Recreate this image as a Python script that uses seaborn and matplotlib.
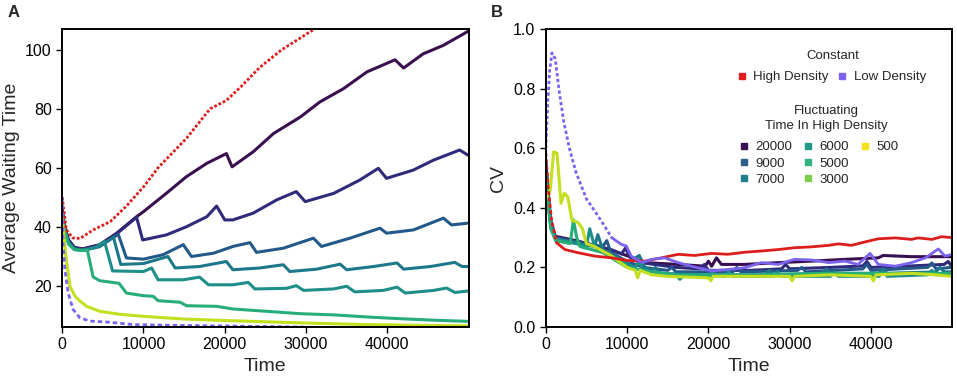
# %%
import numpy as np
import pandas as pd
import seaborn as sns
import matplotlib.pyplot as plt
from matplotlib.lines import Line2D

# %%
# panel A - average waiting time
a_high_t = [0, 500, 1300, 2200, 3800, 5900, 7900, 10000, 11800, 15300, 18200, 20200,
            22000, 24300, 27000, 29300, 31000, 32000]
a_high_y = [50, 39, 36.2, 36, 38.9, 41.7, 47, 53.5, 60, 70, 80, 82.8, 87.5, 94, 100,
            104, 107, 109]
a_low_t = [0, 120, 330, 740, 1350, 2180, 3400, 5900, 8700, 12800, 21000, 29000, 33000,
           40000, 49900]
a_low_y = [50, 33.3, 25.4, 17.5, 11.9, 9.1, 8, 7.6, 6.8, 6.6, 6.3, 6.0, 5.7, 5.5, 5.3]

a_20000_t = [0, 300, 800, 1500, 2500, 4600, 6700, 9150, 10000, 12800, 15300, 17800,
             20200, 20900, 23500, 26000, 29300, 31700, 34600, 37500, 40950, 42000,
             44400, 46900, 49900]
a_20000_y = [46, 40, 35.5, 33, 32.5, 33.9, 37.8, 43.4, 45.1, 51.3, 57, 61.5, 64.8, 60.3,
             65.4, 71.6, 77.2, 82.3, 86.8, 92.5, 96.6, 93.8, 98.6, 101.5, 106.2]
a_9000_t = [0, 300, 800, 1500, 2500, 4600, 6700, 9150, 9900, 12800, 15300, 17800, 19000,
            20000, 21000, 23500, 26400, 28800, 29900, 33400, 36600, 38900, 39900, 43200,
            45700, 48900, 49900]
a_9000_y = [45, 39.5, 35, 32.8, 32.3, 33.7, 37.6, 43.2, 35.5, 37.2, 40, 43.4, 47, 42.3,
            42.3, 44.6, 49.1, 51.9, 48.5, 51.3, 55.8, 59.8, 56.4, 59.2, 62.6, 66, 64.3]
a_7000_t = [0, 300, 800, 1500, 2500, 4600, 6900, 7900, 10000, 12400, 14900, 15900, 18600,
            21000, 23100, 23900, 27200, 30900, 31900, 35400, 39100, 39900, 43200, 46900,
            47900, 49900]
a_7000_y = [44.5, 39, 34.8, 32.6, 32.2, 33.4, 37.4, 29.4, 29, 30.5, 33.9, 29.9, 31, 33.3,
            34.6, 31.3, 32.7, 36.1, 33.3, 36.1, 39.5, 37.8, 38.9, 42.9, 40.6, 41.2]
a_6000_t = [0, 300, 800, 1500, 2500, 4600, 6300, 7200, 10000, 13000, 13900, 16900, 20200,
            21000, 24300, 27200, 28000, 31300, 34200, 35000, 38300, 41200, 42000, 45300,
            48300, 49200, 49900]
a_6000_y = [44, 38.8, 34.5, 32.4, 32, 33.2, 36.5, 27.2, 27.5, 29.9, 26, 26.5, 28.2, 25.4,
            26, 27.1, 24.8, 25.6, 27.3, 25.4, 26.5, 27.7, 25.6, 26.5, 27.9, 26.5, 26.5]
a_5000_t = [0, 300, 800, 1500, 2500, 4000, 5200, 6200, 10000, 11000, 11800, 14900, 16900,
            18000, 21000, 22900, 23700, 27600, 28800, 29700, 33400, 35000, 36000, 39500,
            41200, 42200, 45700, 47300, 48300, 49900]
a_5000_y = [43.5, 38.5, 34.3, 32.3, 32, 32.8, 35, 25, 24.8, 26, 22, 22, 22.9, 20.3, 20.3,
            21.1, 18.9, 19.1, 20, 18.4, 18.9, 19.8, 17.9, 18.4, 19.5, 17.5, 18.4, 19.2,
            17.7, 18.2]
a_3000_t = [0, 300, 800, 1500, 2500, 3100, 3800, 4600, 7000, 7900, 10000, 11200, 11800,
            14500, 15300, 19000, 21000, 25200, 29300, 33400, 37500, 41600, 45700, 49900]
a_3000_y = [43, 38.3, 34, 32.2, 31.9, 32, 23, 21.7, 20.8, 17.5, 16.6, 16.4, 14.9, 14.4,
            13.2, 13, 12.1, 11.3, 10.5, 10.1, 9.4, 8.8, 8.3, 7.9]
a_500_t = [0, 200, 500, 950, 1560, 2180, 3000, 4640, 7100, 10000, 14900, 21000, 29300,
           37500, 45700, 49900]
a_500_y = [44, 37, 29, 19.8, 16.5, 14.8, 13, 11.3, 10.3, 9.6, 8.7, 8.1, 7.4, 6.8, 6.5, 6.4]

# panel B - coefficient of variation
b_high_t = [0, 290, 700, 1310, 2340, 4000, 6000, 8100, 10100, 12200, 14200, 16300, 18300,
            20400, 22400, 24500, 26500, 28600, 30600, 32700, 34800, 36000, 37600, 38900,
            40900, 43000, 45000, 45800, 47500, 48700, 49900]
b_high_y = [0.584, 0.47, 0.36, 0.283, 0.26, 0.249, 0.238, 0.232, 0.223, 0.221, 0.232,
            0.244, 0.240, 0.247, 0.244, 0.251, 0.255, 0.260, 0.266, 0.269, 0.274, 0.279,
            0.274, 0.283, 0.296, 0.299, 0.294, 0.299, 0.294, 0.303, 0.30]
b_low_t = [0, 220, 470, 760, 1170, 1600, 2200, 2900, 3700, 5000, 6000, 7200, 8100, 9300,
           9900, 10500, 11800, 13000, 14600, 16300, 17900, 20400, 22400, 24500, 26500,
           28600, 30600, 32700, 34800, 36800, 38400, 39900, 40900, 43000, 45000, 46700,
           48300, 49100, 49900]
b_low_y = [0.6, 0.74, 0.86, 0.92, 0.9, 0.8, 0.69, 0.6, 0.52, 0.43, 0.39, 0.34, 0.3,
           0.277, 0.272, 0.238, 0.216, 0.227, 0.232, 0.216, 0.204, 0.188, 0.193, 0.199,
           0.216, 0.21, 0.227, 0.225, 0.216, 0.221, 0.21, 0.247, 0.21, 0.204, 0.216,
           0.232, 0.262, 0.238, 0.243]

b_20000_t = [0, 500, 1100, 4000, 8100, 10100, 12200, 16300, 19600, 20000, 20400, 21000,
             21600, 24500, 28600, 32700, 36800, 40900, 41500, 45000, 49900]
b_20000_y = [0.55, 0.36, 0.305, 0.288, 0.258, 0.238, 0.216, 0.21, 0.204, 0.221, 0.204,
             0.232, 0.21, 0.21, 0.216, 0.221, 0.227, 0.232, 0.24, 0.236, 0.236]
b_9000_t = [0, 600, 1200, 4000, 8000, 9300, 9800, 10300, 12000, 16000, 19000, 19500, 20000,
            25000, 29000, 29500, 30000, 35000, 39000, 39500, 40000, 45000, 49000, 49500,
            49900]
b_9000_y = [0.55, 0.36, 0.3, 0.285, 0.26, 0.245, 0.265, 0.235, 0.215, 0.2, 0.195, 0.21,
            0.19, 0.19, 0.195, 0.21, 0.195, 0.2, 0.205, 0.22, 0.2, 0.205, 0.21, 0.22, 0.205]
b_7000_t = [0, 600, 1200, 4000, 7000, 7500, 8000, 10000, 12000, 15000, 15500, 16000,
            23000, 23500, 24000, 31000, 31500, 32000, 39000, 39500, 40000, 47000, 47500,
            48000, 49900]
b_7000_y = [0.52, 0.35, 0.3, 0.285, 0.27, 0.29, 0.25, 0.22, 0.2, 0.19, 0.2, 0.185, 0.185,
            0.2, 0.185, 0.19, 0.2, 0.185, 0.195, 0.21, 0.19, 0.2, 0.215, 0.195, 0.2]
b_6000_t = [0, 600, 1200, 4000, 6000, 6400, 7000, 10000, 11500, 12200, 13000, 13500,
            14000, 20000, 20500, 21000, 27000, 27500, 28000, 34000, 34500, 35000, 41000,
            41500, 42000, 48000, 48500, 49000, 49900]
b_6000_y = [0.5, 0.34, 0.295, 0.28, 0.27, 0.31, 0.26, 0.215, 0.24, 0.2, 0.19, 0.2, 0.18,
            0.175, 0.19, 0.175, 0.175, 0.19, 0.175, 0.18, 0.195, 0.18, 0.18, 0.195, 0.18,
            0.185, 0.2, 0.185, 0.185]
b_5000_t = [0, 600, 1200, 4500, 5000, 5400, 6000, 8000, 10000, 11000, 11400, 12000,
            16000, 16500, 17000, 22000, 22500, 23000, 28000, 28500, 29000, 35000, 35500,
            36000, 41000, 41500, 42000, 47000, 47500, 48000, 49900]
b_5000_y = [0.5, 0.34, 0.295, 0.275, 0.27, 0.33, 0.27, 0.24, 0.21, 0.2, 0.22, 0.19, 0.175,
            0.16, 0.175, 0.17, 0.185, 0.17, 0.17, 0.185, 0.17, 0.17, 0.185, 0.17, 0.17,
            0.185, 0.17, 0.175, 0.19, 0.175, 0.175]
b_3000_t = [0, 600, 1200, 3000, 3400, 3800, 4200, 7000, 10000, 13000, 16000, 20000, 25000,
            30000, 35000, 40000, 45000, 49900]
b_3000_y = [0.5, 0.33, 0.29, 0.28, 0.36, 0.3, 0.27, 0.25, 0.2, 0.185, 0.175, 0.175, 0.175,
            0.178, 0.18, 0.18, 0.18, 0.18]
b_500_t = [0, 550, 960, 1380, 1870, 2280, 2690, 3220, 4000, 4500, 5000, 6000, 8000, 10000,
           11000, 11300, 11600, 13000, 15000, 20000, 20300, 20600, 25000, 30000, 30300,
           30600, 35000, 40000, 40300, 40600, 45000, 48000, 49900]
b_500_y = [0.43, 0.46, 0.588, 0.583, 0.415, 0.449, 0.437, 0.359, 0.35, 0.33, 0.28, 0.27,
           0.24, 0.2, 0.19, 0.165, 0.19, 0.175, 0.17, 0.165, 0.155, 0.17, 0.17, 0.17,
           0.155, 0.17, 0.175, 0.17, 0.155, 0.175, 0.18, 0.175, 0.17]

fluct_labels = ["20000", "9000", "7000", "6000", "5000", "3000", "500"]
line_colors = ["#3a0f50", "#302a7c", "#23598a", "#1e788b", "#1d8e8a", "#27ad7a", "#c4df20"]
legend_colors = ["#3b0f53", "#2d5f8c", "#1f7f8c", "#1f9a88", "#2fb37a", "#7ccd4f", "#f6e01c"]
high_color = "#dd1c1c"
low_color = "#7b63ef"

a_fluct = [(a_20000_t, a_20000_y), (a_9000_t, a_9000_y), (a_7000_t, a_7000_y),
           (a_6000_t, a_6000_y), (a_5000_t, a_5000_y), (a_3000_t, a_3000_y),
           (a_500_t, a_500_y)]
b_fluct = [(b_20000_t, b_20000_y), (b_9000_t, b_9000_y), (b_7000_t, b_7000_y),
           (b_6000_t, b_6000_y), (b_5000_t, b_5000_y), (b_3000_t, b_3000_y),
           (b_500_t, b_500_y)]

# %%
sns.set_theme(style="ticks")
plt.rcParams["font.family"] = ["Liberation Sans", "DejaVu Sans"]

fig, (ax_a, ax_b) = plt.subplots(1, 2, figsize=(9.57, 3.78), dpi=100)
fig.subplots_adjust(left=0.065, right=0.995, bottom=0.135, top=0.923, wspace=0.19)


def draw(ax, t, y, color, lw=2.2, **kw):
    sns.lineplot(x=t, y=y, ax=ax, color=color, lw=lw, estimator=None, sort=False,
                 legend=False, **kw)


# panel A
for (t, y), c in zip(a_fluct, line_colors):
    draw(ax_a, t, y, c)
draw(ax_a, a_high_t, a_high_y, high_color, lw=2.0, dashes=(1.0, 0.7))
draw(ax_a, a_low_t, a_low_y, low_color, lw=2.0, dashes=(1.6, 1.1))

ax_a.set_xlim(0, 50000)
ax_a.set_ylim(6, 107)
ax_a.set_yticks([20, 40, 60, 80, 100])
ax_a.set_xticks([0, 10000, 20000, 30000, 40000])
ax_a.set_xlabel("Time", fontsize=14)
ax_a.set_ylabel("Average Waiting Time", fontsize=14)

# panel B
for (t, y), c in zip(b_fluct, line_colors):
    draw(ax_b, t, y, c)
bh_t = np.array(b_high_t)
bh_y = np.array(b_high_y)
draw(ax_b, bh_t[bh_t <= 1310], bh_y[bh_t <= 1310], high_color, lw=2.0, dashes=(1.4, 0.9))
draw(ax_b, bh_t[bh_t >= 1310], bh_y[bh_t >= 1310], high_color, lw=2.0)
bl_t = np.array(b_low_t)
bl_y = np.array(b_low_y)
draw(ax_b, bl_t[bl_t <= 8100], bl_y[bl_t <= 8100], low_color, lw=2.0, dashes=(1.2, 0.9))
draw(ax_b, bl_t[bl_t >= 8100], bl_y[bl_t >= 8100], low_color, lw=2.0)

ax_b.set_xlim(0, 50000)
ax_b.set_ylim(0, 1.0)
ax_b.set_yticks([0.0, 0.2, 0.4, 0.6, 0.8, 1.0])
ax_b.set_yticklabels(["0.0", "0.2", "0.4", "0.6", "0.8", "1.0"])
ax_b.set_xticks([0, 10000, 20000, 30000, 40000])
ax_b.set_xlabel("Time", fontsize=14)
ax_b.set_ylabel("CV", fontsize=14)

for ax in (ax_a, ax_b):
    for sp in ax.spines.values():
        sp.set_visible(True)
        sp.set_color("black")
        sp.set_linewidth(1.4)
    ax.tick_params(direction="out", length=4, width=1, labelsize=11.5, colors="black")
    ax.margins(0)

# legends (titles drawn as separate text so the gaps match)
sq = dict(marker="s", linestyle="none", markersize=5)
ax_b.text(0.7065, 0.909, "Constant", transform=ax_b.transAxes, ha="center", va="center",
          fontsize=9.5)
const_handles = [Line2D([], [], color=high_color, **sq), Line2D([], [], color=low_color, **sq)]
leg1 = ax_b.legend(const_handles, ["High Density", "Low Density"],
                   ncol=2, loc="center", bbox_to_anchor=(0.703, 0.839),
                   frameon=False, fontsize=9.5, handlelength=0.7,
                   handletextpad=0.5, columnspacing=0.7, borderpad=0)
ax_b.add_artist(leg1)

ax_b.text(0.69, 0.701, "Fluctuating\nTime In High Density", transform=ax_b.transAxes,
          ha="center", va="center", multialignment="center", fontsize=9.5,
          linespacing=1.35)
fl_handles = [Line2D([], [], color=c, **sq) for c in legend_colors]
fl_handles += [Line2D([], [], color="none", **sq), Line2D([], [], color="none", **sq)]
leg2 = ax_b.legend(fl_handles, fluct_labels + ["", ""], ncol=3,
                   loc="center", bbox_to_anchor=(0.672, 0.549), frameon=False,
                   fontsize=9.5, handlelength=0.7,
                   handletextpad=0.5, columnspacing=0.9, labelspacing=0.3, borderpad=0)

fig.text(0.008, 0.955, "A", fontsize=12, fontweight="bold")
fig.text(0.513, 0.955, "B", fontsize=12, fontweight="bold")

plt.savefig("out.png", dpi=100)
